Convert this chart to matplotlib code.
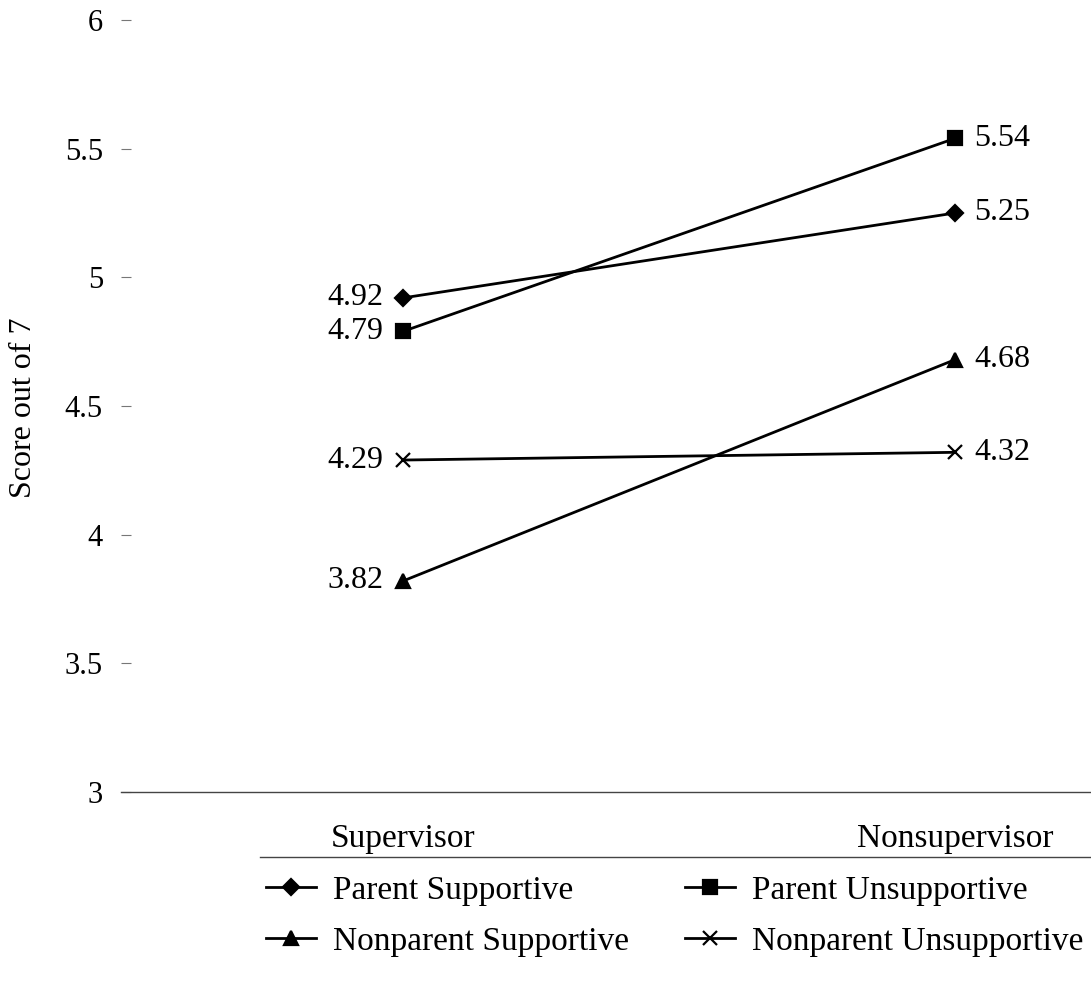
import matplotlib
matplotlib.use('Agg')
import matplotlib.pyplot as plt
from matplotlib.lines import Line2D

plt.rcParams['font.family'] = ['Liberation Serif', 'DejaVu Serif']

# ---- data -------------------------------------------------------------
categories = ['Supervisor', 'Nonsupervisor']
series_names = ['Parent Supportive', 'Parent Unsupportive',
                'Nonparent Supportive', 'Nonparent Unsupportive']
parent_supportive = [4.92, 5.25]
parent_unsupportive = [4.79, 5.54]
nonparent_supportive = [3.82, 4.68]
nonparent_unsupportive = [4.29, 4.32]
yticks = [3, 3.5, 4, 4.5, 5, 5.5, 6]
ytick_labels = ['3', '3.5', '4', '4.5', '5', '5.5', '6']

series = [parent_supportive, parent_unsupportive,
          nonparent_supportive, nonparent_unsupportive]
markers = ['D', 's', '^', 'x']
msizes = [8, 10, 10, 10]

fig = plt.figure(figsize=(10.91, 9.85), dpi=100)
ax = fig.add_axes([121/1091, 1 - 792/985, (1091-121)/1091, (792-20)/985])

xs = list(range(len(categories)))
handles = []
for vals, name, m, ms in zip(series, series_names, markers, msizes):
    h, = ax.plot(xs, vals, color='black', lw=2.0, marker=m, ms=ms,
                 mew=1.6, label=name, clip_on=False)
    handles.append(h)
    ax.annotate(f'{vals[0]:.2f}', (xs[0], vals[0]), xytext=(-14, 0),
                textcoords='offset points', ha='right', va='center', fontsize=23)
    ax.annotate(f'{vals[1]:.2f}', (xs[1], vals[1]), xytext=(14, 0),
                textcoords='offset points', ha='left', va='center', fontsize=23)

ax.set_xlim(-(403-121)/552, 1 + (1091-955)/552)
ax.set_ylim(3, 6)
ax.set_yticks(yticks)
ax.set_yticklabels(ytick_labels, fontsize=22)
ax.set_xticks(xs)
ax.set_xticklabels(categories, fontsize=24)
ax.tick_params(axis='y', direction='in', length=7, width=0.8, color='#777777', pad=13)
ax.tick_params(axis='x', length=0, pad=23)
for s in ['left', 'top', 'right']:
    ax.spines[s].set_visible(False)
ax.spines['bottom'].set_color('#444444')
ax.spines['bottom'].set_linewidth(1.0)

fig.text(24/1091, 1 - 408/985, 'Score out of 7', rotation=90,
         ha='center', va='center', fontsize=23)

# rule above legend
fig.add_artist(Line2D([260/1091, 1.0], [1 - 857/985, 1 - 857/985],
                      color='#444444', lw=1.0))

# legend rows: Parent Supportive / Parent Unsupportive, then Nonparent pair
order = [0, 2, 1, 3]
leg = fig.legend([handles[i] for i in order], [series_names[i] for i in order],
                 loc='upper left', bbox_to_anchor=(266/1091, 1 - 875/985),
                 ncol=2, frameon=False, fontsize=24, handlelength=1.5,
                 handletextpad=0.5, columnspacing=1.7, labelspacing=0.63,
                 borderpad=0, borderaxespad=0)

fig.savefig('out.png', dpi=100)
